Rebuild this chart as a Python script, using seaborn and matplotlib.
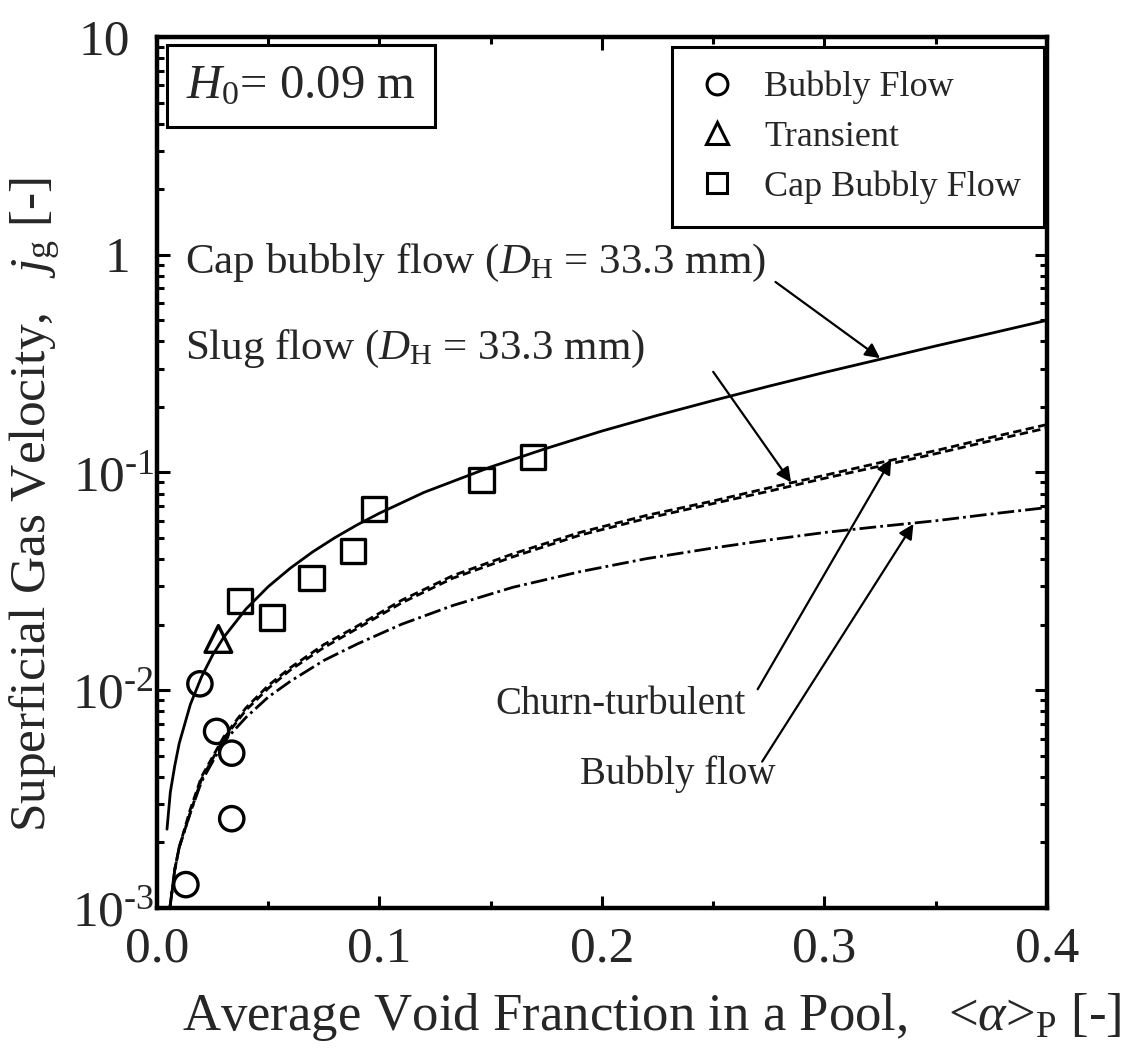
import numpy as np
import pandas as pd
import matplotlib
matplotlib.use("Agg")
import matplotlib.pyplot as plt
import seaborn as sns
from matplotlib.lines import Line2D
from matplotlib.transforms import ScaledTranslation
from matplotlib.ticker import FixedLocator, FixedFormatter, LogLocator, NullFormatter, MultipleLocator

# ---------------- data ----------------
bubbly_alpha = [0.0130, 0.0193, 0.0268, 0.0336, 0.0336]
bubbly_jg = [0.00128, 0.0107, 0.00647, 0.00514, 0.00257]

transient_alpha = [0.0276]
transient_jg = [0.0172]

capflow_alpha = [0.0373, 0.0516, 0.0695, 0.0882, 0.0975, 0.1459, 0.1689]
capflow_jg = [0.0257, 0.0216, 0.0327, 0.0435, 0.0679, 0.0923, 0.118]

# correlation curves
cap_curve_alpha = [0.0045, 0.006, 0.008, 0.010, 0.015, 0.020, 0.025, 0.030, 0.040, 0.050,
                   0.060, 0.070, 0.080, 0.090, 0.100, 0.120, 0.150, 0.175, 0.200, 0.225,
                   0.250, 0.275, 0.300, 0.325, 0.350, 0.375, 0.400]
cap_curve_jg = [0.0023, 0.0034, 0.0045, 0.0057, 0.0086, 0.0115, 0.0145, 0.0175, 0.0236, 0.0299,
                0.0364, 0.0432, 0.0502, 0.0575, 0.065, 0.0810, 0.106, 0.129, 0.155, 0.183,
                0.214, 0.249, 0.288, 0.331, 0.381, 0.436, 0.50]

curve_alpha = [0.0058, 0.008, 0.010, 0.0148, 0.020, 0.030, 0.040, 0.050, 0.060, 0.075,
               0.090, 0.110, 0.133, 0.160, 0.190, 0.220, 0.250, 0.275, 0.300, 0.325,
               0.350, 0.375, 0.400]
slug_curve_jg = [0.0010, 0.0015, 0.0019, 0.0027, 0.0039, 0.0060, 0.0081, 0.0102, 0.0124, 0.0157,
                 0.0192, 0.0252, 0.0327, 0.0410, 0.0515, 0.0615, 0.072, 0.082, 0.094, 0.107,
                 0.122, 0.140, 0.160]
churn_curve_jg = [0.0010, 0.0015, 0.0019, 0.0028, 0.0040, 0.0061, 0.0083, 0.0105, 0.0127, 0.0162,
                  0.0197, 0.0259, 0.0336, 0.0423, 0.0530, 0.0635, 0.074, 0.085, 0.097, 0.111,
                  0.126, 0.145, 0.166]
bubbly_curve_jg = [0.0010, 0.0015, 0.0019, 0.0027, 0.0038, 0.0058, 0.0075, 0.0093, 0.0110, 0.0137,
                   0.0163, 0.0201, 0.0245, 0.0297, 0.0350, 0.0402, 0.045, 0.049, 0.053, 0.0565,
                   0.060, 0.0645, 0.069]

xtick_vals = [0.0, 0.1, 0.2, 0.3, 0.4]
xtick_labels = ["0.0", "0.1", "0.2", "0.3", "0.4"]
ytick_vals = [1e-3, 1e-2, 1e-1, 1, 10]
ytick_labels = ["$10^{\\text{-}3}$", "$10^{\\text{-}2}$", "$10^{\\text{-}1}$", "1", "10"]

legend_labels = ["Bubbly Flow", "Transient", "Cap Bubbly Flow"]

# ---------------- style ----------------
sns.set_style("ticks")
plt.rcParams['font.family'] = ['Liberation Serif', 'DejaVu Serif']
plt.rcParams['mathtext.fontset'] = 'custom'
plt.rcParams['mathtext.rm'] = 'Liberation Serif'
plt.rcParams['mathtext.it'] = 'Liberation Serif:italic'
plt.rcParams['mathtext.bf'] = 'Liberation Serif:bold'

fig = plt.figure(figsize=(11.35, 10.51), dpi=100)
ax = fig.add_axes([0.1383, 0.1361, 0.7841, 0.8287])

lw_curve = 2.0
sns.lineplot(x=cap_curve_alpha, y=cap_curve_jg, ax=ax, color='black', lw=lw_curve,
             errorbar=None, sort=False)
sns.lineplot(x=curve_alpha, y=slug_curve_jg, ax=ax, color='black', lw=lw_curve,
             errorbar=None, sort=False, linestyle=(0, (3.0, 1.6)))
sns.lineplot(x=curve_alpha, y=churn_curve_jg, ax=ax, color='black', lw=lw_curve,
             errorbar=None, sort=False, linestyle=(1.5, (3.0, 1.6)))
sns.lineplot(x=curve_alpha, y=bubbly_curve_jg, ax=ax, color='black', lw=lw_curve,
             errorbar=None, sort=False, linestyle=(0, (6.0, 1.5, 1.0, 1.5)))

ms = 17.5
mew = 2.4
sns.scatterplot(x=bubbly_alpha, y=bubbly_jg, ax=ax, marker='o', s=ms**2,
                facecolors='none', edgecolor='black', linewidth=mew, zorder=5)
sns.scatterplot(x=transient_alpha, y=transient_jg, ax=ax, marker='^', s=(ms * 1.1)**2,
                facecolors='none', edgecolor='black', linewidth=mew, zorder=5)
sns.scatterplot(x=capflow_alpha, y=capflow_jg, ax=ax, marker='s', s=ms**2,
                facecolors='none', edgecolor='black', linewidth=mew, zorder=5)

ax.set_yscale('log')
ax.set_xlim(0, 0.4)
ax.set_ylim(1e-3, 10)

ax.xaxis.set_major_locator(FixedLocator(xtick_vals))
ax.xaxis.set_major_formatter(FixedFormatter(xtick_labels))
ax.xaxis.set_minor_locator(MultipleLocator(0.05))
ax.yaxis.set_major_locator(FixedLocator(ytick_vals))
ax.yaxis.set_major_formatter(FixedFormatter(ytick_labels))
ax.yaxis.set_minor_locator(LogLocator(base=10, subs=np.arange(2, 10), numticks=20))
ax.yaxis.set_minor_formatter(NullFormatter())

ax.tick_params(which='both', direction='in', top=True, right=True, color='black', width=2.2)
ax.tick_params(which='major', length=9, labelsize=37)
ax.tick_params(which='minor', length=5)
ax.tick_params(axis='x', which='major', pad=13)
ax.tick_params(axis='y', which='major', pad=2)
for sp in ax.spines.values():
    sp.set_linewidth(3.2)
    sp.set_color('black')

ax.set_xlabel("Average Void Franction in a Pool,   <$\\alpha$>$_{\\rm P}$ [-]", fontsize=38)
ax.set_ylabel("Superficial Gas Velocity,   $j_{\\rm g}$ [-]", fontsize=37)
ax.xaxis.set_label_coords(0.556, -0.125)
ax.xaxis.label.set_va('center')
ax.yaxis.set_label_coords(-0.137, 0.463)
ax.yaxis.label.set_va('center')

# text annotations
ann_fs = 31
ax.text(0.0126, 0.92, "Cap bubbly flow ($D_{\\rm H}$ = 33.3 mm)", fontsize=ann_fs,
        ha='left', va='center')
ax.text(0.0126, 0.37, "Slug flow ($D_{\\rm H}$ = 33.3 mm)", fontsize=ann_fs,
        ha='left', va='center')
ax.text(0.152, 0.0086, "Churn-turbulent", fontsize=28, ha='left', va='center')
ax.text(0.190, 0.0041, "Bubbly flow", fontsize=28, ha='left', va='center')

arrow = dict(arrowstyle='-|>', color='black', lw=1.6, mutation_scale=22, shrinkA=0, shrinkB=0)
ax.annotate('', xy=(0.325, 0.335), xytext=(0.278, 0.75), arrowprops=arrow)
ax.annotate('', xy=(0.285, 0.090), xytext=(0.250, 0.29), arrowprops=arrow)
ax.annotate('', xy=(0.330, 0.115), xytext=(0.270, 0.0101), arrowprops=arrow)
ax.annotate('', xy=(0.340, 0.058), xytext=(0.272, 0.0047), arrowprops=arrow)

# H0 box
ax.text(0.0326, 0.969, "$H_0$= 0.09 m", transform=ax.transAxes, fontsize=35,
        ha='left', va='top',
        bbox=dict(boxstyle='square,pad=0.4', fc='white', ec='black', lw=2.2))

# legend
handles = [
    Line2D([], [], marker='o', ls='none', mfc='none', mec='black', ms=15, mew=2.2),
    Line2D([], [], marker='^', ls='none', mfc='none', mec='black', ms=16, mew=2.2),
    Line2D([], [], marker='s', ls='none', mfc='none', mec='black', ms=15, mew=2.2),
]
leg = ax.legend(handles, legend_labels, loc='upper right', bbox_to_anchor=(0.997, 0.988),
                fontsize=26, frameon=True, fancybox=False, edgecolor='black',
                framealpha=1, borderpad=0.65, labelspacing=0.45, handletextpad=0.7,
                handlelength=1.2, borderaxespad=0)
leg.get_frame().set_linewidth(2.2)

# shift the plain "1" and "10" labels left, as in the original
fig.canvas.draw()
for tick in ax.yaxis.get_major_ticks()[3:]:
    tick.label1.set_transform(tick.label1.get_transform()
                              + ScaledTranslation(-0.24, 0, fig.dpi_scale_trans))

fig.savefig("out.png", dpi=100)
